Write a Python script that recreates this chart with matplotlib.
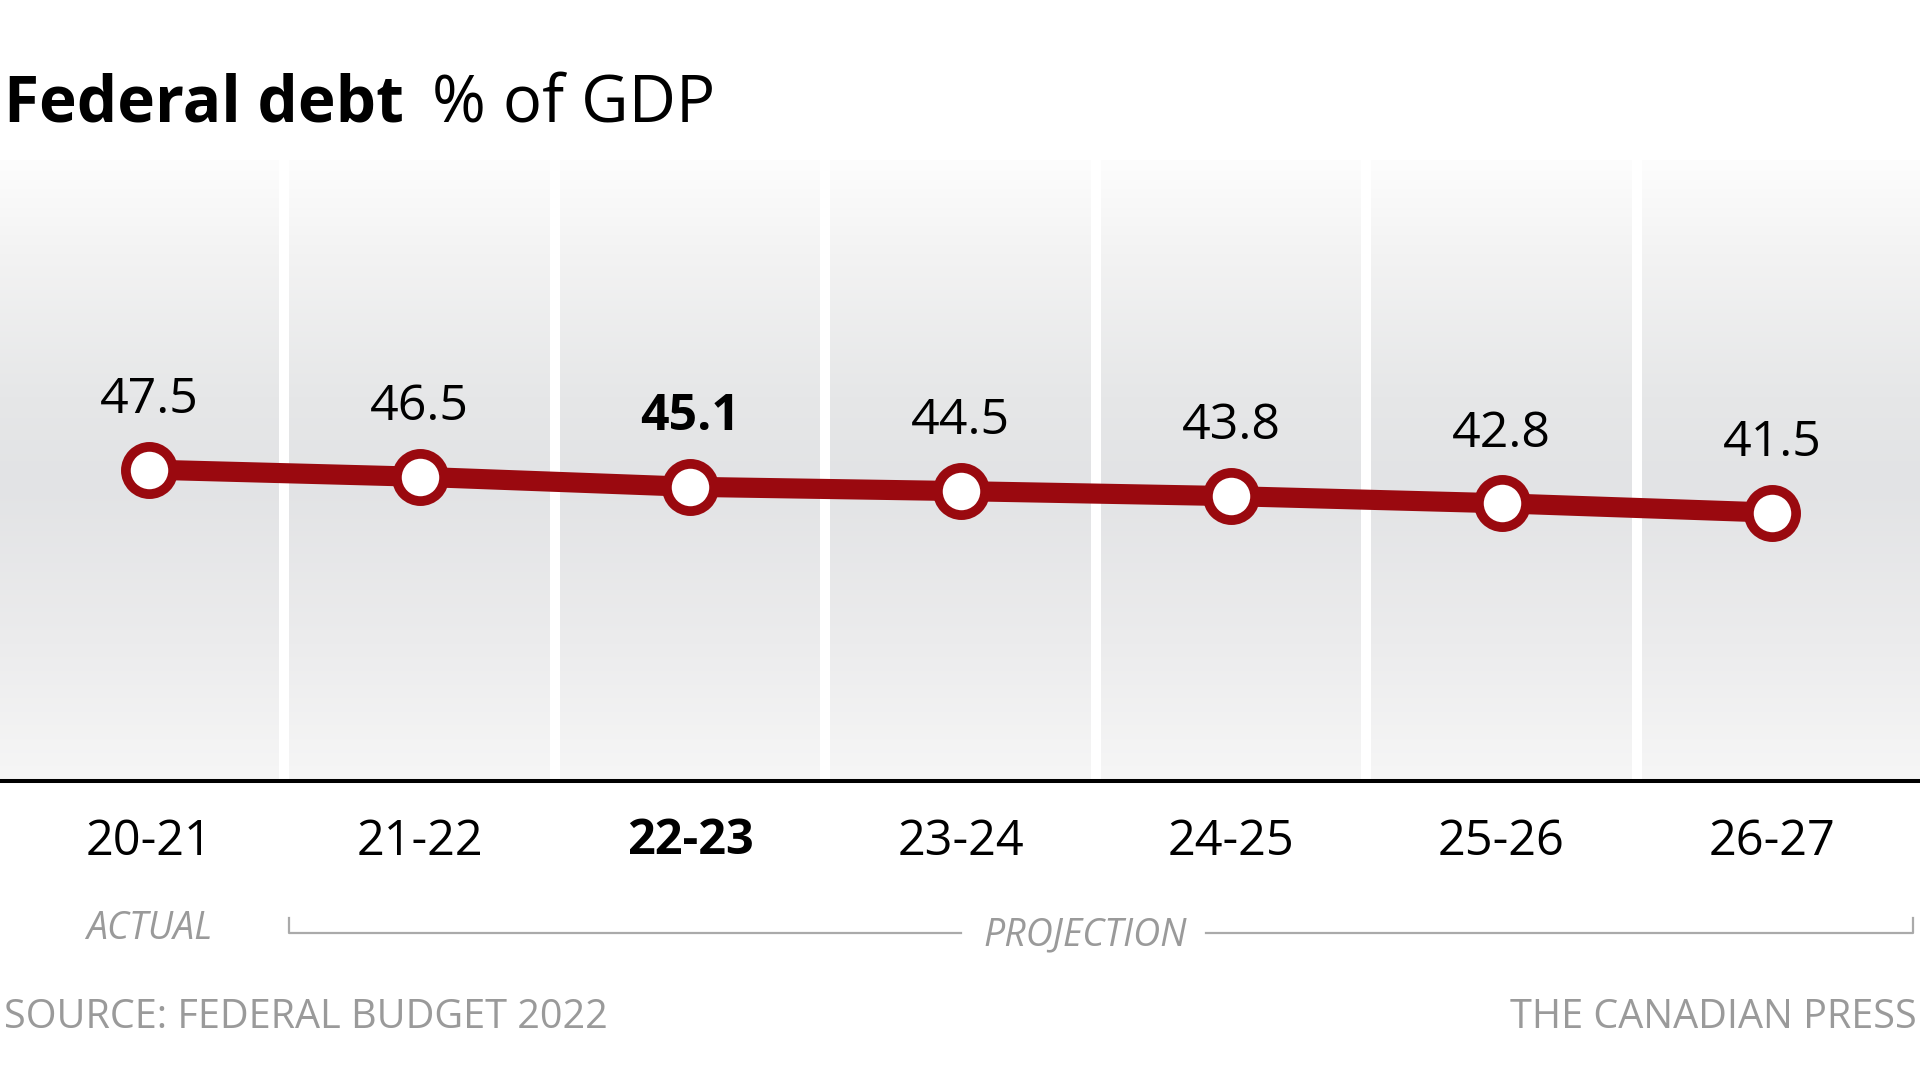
import numpy as np
import matplotlib
matplotlib.use("Agg")
import matplotlib.pyplot as plt
from matplotlib.colors import LinearSegmentedColormap
from matplotlib.lines import Line2D

# ---- data ----
years = ["20-21", "21-22", "22-23", "23-24", "24-25", "25-26", "26-27"]
debt_pct = [47.5, 46.5, 45.1, 44.5, 43.8, 42.8, 41.5]
highlight_year = "22-23"
title_bold = "Federal debt"
title_rest = "% of GDP"
source_text = "SOURCE: FEDERAL BUDGET 2022"
credit_text = "THE CANADIAN PRESS"

FONT = "Open Sans"
plt.rcParams["font.family"] = [FONT, "DejaVu Sans"]

W, H = 1920, 1080
fig = plt.figure(figsize=(W / 100, H / 100), dpi=100)
fig.patch.set_facecolor("white")

def fx(px):
    return px / W

def fy(py):
    return 1 - py / H

# axes: baseline at y=781px, top at 160px
ax_bottom_px, ax_top_px = 781, 160
ax = fig.add_axes([0, fy(ax_bottom_px), 1, (ax_bottom_px - ax_top_px) / H])
ax.set_xlim(-0.551, 6.547)
ax.set_ylim(4.05, 90.7)

# vertical gradient background
grad = LinearSegmentedColormap.from_list(
    "g",
    [(0.0, "#f6f6f6"), (0.22, "#ececed"), (0.48, "#e2e3e5"),
     (0.62, "#e6e7e8"), (0.85, "#f3f3f3"), (1.0, "#fdfdfd")],
)
gvals = np.linspace(0, 1, 256).reshape(-1, 1)
ax.imshow(gvals, cmap=grad, aspect="auto", origin="lower",
          extent=[ax.get_xlim()[0], ax.get_xlim()[1], ax.get_ylim()[0], ax.get_ylim()[1]],
          zorder=0, interpolation="bicubic")

x = np.arange(len(years))
for sep in x[:-1] + 0.5:
    ax.axvline(sep, color="white", lw=7.2, zorder=1)

red = "#9a090f"
ax.plot(x, debt_pct, color=red, lw=14.5, zorder=3, solid_capstyle="butt")
ax.plot(x, debt_pct, linestyle="none", marker="o", ms=34, mfc="white",
        mec=red, mew=7, zorder=4)

for xi, (yr, v) in enumerate(zip(years, debt_pct)):
    ax.annotate(f"{v:.1f}", (xi, v), xytext=(0, 50), textcoords="offset points",
                ha="center", va="center", fontsize=36,
                fontweight="bold" if yr == highlight_year else "normal",
                color="black", zorder=5)

for side in ["top", "left", "right"]:
    ax.spines[side].set_visible(False)
ax.spines["bottom"].set_linewidth(2.9)
ax.spines["bottom"].set_color("black")
ax.spines["bottom"].set_zorder(6)
ax.set_yticks([])
ax.set_xticks(x)
ax.set_xticklabels(years, fontsize=35)
ax.tick_params(axis="x", length=0, pad=26)
for lab, yr in zip(ax.get_xticklabels(), years):
    if yr == highlight_year:
        lab.set_fontweight("bold")

# title
fig.text(fx(4), fy(122), title_bold, fontsize=46, fontweight="bold",
         ha="left", va="baseline", color="black")
fig.text(fx(432), fy(122), title_rest, fontsize=47, fontweight="normal",
         ha="left", va="baseline", color="black")

# actual / projection
gray = "#9a9a9a"
fig.text(fx(149), fy(929), "ACTUAL", fontsize=27, style="italic", color=gray,
         ha="center", va="center")
fig.text(fx(1085), fy(935), "PROJECTION", fontsize=27, style="italic", color=gray,
         ha="center", va="center")
bcol = "#aaaaaa"
fig.add_artist(Line2D([fx(289), fx(289), fx(961)], [fy(918), fy(933), fy(933)],
                      color=bcol, lw=1.6, transform=fig.transFigure))
fig.add_artist(Line2D([fx(1206), fx(1913), fx(1913)], [fy(933), fy(933), fy(918)],
                      color=bcol, lw=1.6, transform=fig.transFigure))

# footer
fig.text(fx(4), fy(1018), source_text, fontsize=28.5, color=gray, ha="left", va="center")
fig.text(fx(1917), fy(1018), credit_text, fontsize=28.5, color=gray, ha="right", va="center")

fig.savefig("out.png", dpi=100, facecolor="white")
